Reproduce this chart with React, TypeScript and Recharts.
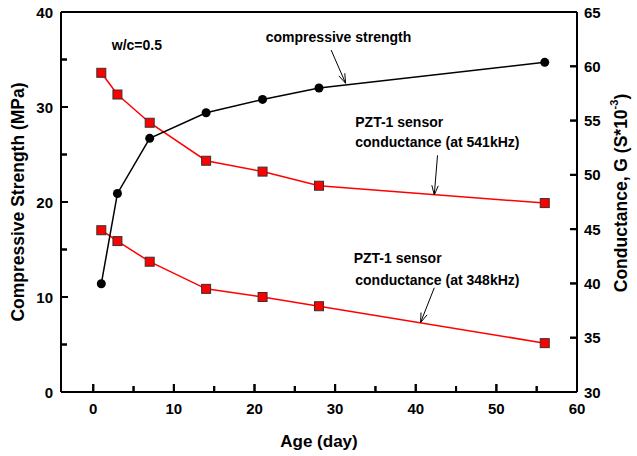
import React from "react";
import {
  LineChart,
  Line,
  XAxis,
  YAxis,
  ReferenceLine,
  ReferenceDot,
} from "recharts";

if (typeof document !== "undefined") {
  document.body.style.margin = "0";
}

const days = [1, 3, 7, 14, 21, 28, 56];
const strength = [11.4, 20.9, 26.7, 29.4, 30.8, 32.0, 34.7];
const g541 = [59.4, 57.4, 54.8, 51.3, 50.3, 49.0, 47.4];
const g348 = [44.9, 43.9, 42.0, 39.5, 38.75, 37.9, 34.5];

const xTicks = [0, 5, 10, 15, 20, 25, 30, 35, 40, 45, 50, 55, 60];
const leftTicks = [0, 5, 10, 15, 20, 25, 30, 35, 40];
const rightTicks = [30, 35, 40, 45, 50, 55, 60, 65];
const X_MIN = -4;
const X_MAX = 60;

const data = days.map((d, i) => ({
  day: d,
  strength: strength[i],
  g541: g541[i],
  g348: g348[i],
}));

const FONT = "'Liberation Sans', Arial, sans-serif";

const XTick = (props: any) => {
  const { x, y, payload } = props;
  const v = payload.value;
  const major = v % 10 === 0;
  return (
    <g>
      {v < X_MAX && (
        <path d={`M${x},${y}L${x},${y - (major ? 8 : 6)}`} stroke="#000" strokeWidth={2} fill="none" />
      )}
      {major && (
        <text x={x} y={y + 16} textAnchor="middle" dominantBaseline="central" fontFamily={FONT} fontWeight="bold" fontSize={15} fill="#000">
          {v}
        </text>
      )}
    </g>
  );
};

const LTick = (props: any) => {
  const { x, y, payload } = props;
  const v = payload.value;
  const major = v % 10 === 0;
  return (
    <g>
      {v > 0 && v < 40 && (
        <path d={`M${x},${y}L${x + (major ? 7 : 6)},${y}`} stroke="#000" strokeWidth={2} fill="none" />
      )}
      {major && (
        <text x={x - 8} y={y} textAnchor="end" dominantBaseline="central" fontFamily={FONT} fontWeight="bold" fontSize={15} fill="#000">
          {v}
        </text>
      )}
    </g>
  );
};

const RTick = (props: any) => {
  const { x, y, payload } = props;
  const v = payload.value;
  return (
    <g>
      {v > 30 && v < 65 && (
        <path d={`M${x},${y}L${x - 7},${y}`} stroke="#000" strokeWidth={2} fill="none" />
      )}
      <text x={x + 7} y={y} textAnchor="start" dominantBaseline="central" fontFamily={FONT} fontWeight="bold" fontSize={15} fill="#000">
        {v}
      </text>
    </g>
  );
};

// inward tick mark drawn with the scales: fixed pixel length from the segment start toward its end
const tickShape = (len: number) => (p: any) => {
  const { x1, y1, x2, y2 } = p;
  if (x1 == null) return <g />;
  const dx = x2 - x1;
  const dy = y2 - y1;
  const d = Math.sqrt(dx * dx + dy * dy) || 1;
  return (
    <g>
      <line x1={x1} y1={y1} x2={x1 + (dx / d) * len} y2={y1 + (dy / d) * len} stroke="#000" strokeWidth={2} />
    </g>
  );
};

const Square = (props: any) => {
  const { cx, cy, index } = props;
  if (cx == null || cy == null) return <g key={index} />;
  return (
    <rect key={index} x={cx - 4.5} y={cy - 4.5} width={9} height={9} fill="#ff0000" stroke="#333" strokeWidth={1} />
  );
};

const Arrow = (props: any) => {
  const { x1, y1, x2, y2 } = props;
  if (x1 == null) return <g />;
  const ang = Math.atan2(y2 - y1, x2 - x1);
  const L = 10;
  const a = 0.33;
  const ax1 = x2 - L * Math.cos(ang - a);
  const ay1 = y2 - L * Math.sin(ang - a);
  const ax2 = x2 - L * Math.cos(ang + a);
  const ay2 = y2 - L * Math.sin(ang + a);
  return (
    <g>
      <line x1={x1} y1={y1} x2={x2} y2={y2} stroke="#000" strokeWidth={1} />
      <polyline points={`${ax1},${ay1} ${x2},${y2} ${ax2},${ay2}`} fill="none" stroke="#000" strokeWidth={1} />
    </g>
  );
};

const annotations = [
  { text: "w/c=0.5", x: 2.3, y: 36.5 },
  { text: "compressive strength", x: 21.4, y: 37.4 },
  { text: "PZT-1 sensor", x: 32.5, y: 28.4 },
  { text: "conductance (at 541kHz)", x: 32.5, y: 26.3 },
  { text: "PZT-1 sensor", x: 32.3, y: 14.1 },
  { text: "conductance (at 348kHz)", x: 32.5, y: 11.8 },
];

const makeText = (text: string) => (p: any) => (
  <text x={p.cx} y={p.cy} textAnchor="start" dominantBaseline="central" fontFamily={FONT} fontWeight="bold" fontSize={14} fill="#000">
    {text}
  </text>
);

const LeftTitle = (p: any) => {
  const vb = p.viewBox || {};
  const cx = 18;
  const cy = (vb.y ?? 12) + (vb.height ?? 380) / 2;
  return (
    <text x={cx} y={cy} transform={`rotate(-90 ${cx} ${cy})`} textAnchor="middle" dominantBaseline="central" fontFamily={FONT} fontWeight="bold" fontSize={17.5} fill="#000">
      Compressive Strength (MPa)
    </text>
  );
};

const RightTitle = (p: any) => {
  const vb = p.viewBox || {};
  const cx = 621;
  const cy = (vb.y ?? 12) + (vb.height ?? 380) / 2 - 9;
  return (
    <text x={cx} y={cy} transform={`rotate(-90 ${cx} ${cy})`} textAnchor="middle" dominantBaseline="central" fontFamily={FONT} fontWeight="bold" fontSize={17.5} fill="#000">
      Conductance, G (S*10
      <tspan dy={-7} fontSize={11}>-3</tspan>
      <tspan dy={7}>)</tspan>
    </text>
  );
};

const XTitle = (p: any) => {
  const vb = p.viewBox || {};
  const cx = (vb.x ?? 61) + (vb.width ?? 516) / 2;
  return (
    <text x={cx} y={441} textAnchor="middle" dominantBaseline="central" fontFamily={FONT} fontWeight="bold" fontSize={17} fill="#000">
      Age (day)
    </text>
  );
};

export default function App() {
  return (
    <div style={{ width: 637, height: 456, background: "#fff" }}>
      <LineChart width={637} height={456} data={data} margin={{ top: 12, right: 0, left: 0, bottom: 0 }}>
        <XAxis
          dataKey="day"
          type="number"
          domain={[X_MIN, X_MAX]}
          ticks={xTicks}
          interval={0}
          tickSize={0}
          tickMargin={0}
          tickLine={false}
          tick={<XTick />}
          axisLine={{ stroke: "#000", strokeWidth: 2 }}
          height={64}
          label={<XTitle />}
        />
        <YAxis
          yAxisId="left"
          orientation="left"
          domain={[0, 40]}
          ticks={leftTicks}
          interval={0}
          tickSize={0}
          tickMargin={0}
          tickLine={false}
          tick={<LTick />}
          axisLine={{ stroke: "#000", strokeWidth: 2 }}
          width={61}
          label={<LeftTitle />}
        />
        <YAxis
          yAxisId="right"
          orientation="right"
          domain={[30, 65]}
          ticks={rightTicks}
          interval={0}
          tickSize={0}
          tickMargin={0}
          tickLine={false}
          tick={<RTick />}
          axisLine={{ stroke: "#000", strokeWidth: 2 }}
          width={60}
          label={<RightTitle />}
        />
        <ReferenceLine yAxisId="left" y={40} stroke="#000" strokeWidth={2} ifOverflow="visible" />
        {xTicks.filter((v) => v < X_MAX).map((v) => (
          <ReferenceLine
            key={"xt" + v}
            yAxisId="left"
            ifOverflow="visible"
            segment={[{ x: v, y: 0 }, { x: v, y: 5 }]}
            shape={tickShape(v % 10 === 0 ? 8 : 6)}
          />
        ))}
        {leftTicks.filter((v) => v > 0 && v < 40).map((v) => (
          <ReferenceLine
            key={"lt" + v}
            yAxisId="left"
            ifOverflow="visible"
            segment={[{ x: X_MIN, y: v }, { x: 0, y: v }]}
            shape={tickShape(v % 10 === 0 ? 7 : 6)}
          />
        ))}
        {rightTicks.filter((v) => v > 30 && v < 65).map((v) => (
          <ReferenceLine
            key={"rt" + v}
            yAxisId="right"
            ifOverflow="visible"
            segment={[{ x: X_MAX, y: v }, { x: 50, y: v }]}
            shape={tickShape(7)}
          />
        ))}
        <Line
          yAxisId="right"
          dataKey="g541"
          stroke="#ff0000"
          strokeWidth={1.5}
          dot={<Square />}
          isAnimationActive={false}
        />
        <Line
          yAxisId="right"
          dataKey="g348"
          stroke="#ff0000"
          strokeWidth={1.5}
          dot={<Square />}
          isAnimationActive={false}
        />
        <Line
          yAxisId="left"
          dataKey="strength"
          stroke="#000"
          strokeWidth={1.5}
          dot={{ r: 4.5, fill: "#000", stroke: "#000", strokeWidth: 0 }}
          isAnimationActive={false}
        />
        <ReferenceLine
          yAxisId="left"
          segment={[{ x: 29.5, y: 36.0 }, { x: 31.3, y: 32.5 }]}
          shape={Arrow}
        />
        <ReferenceLine
          yAxisId="right"
          segment={[{ x: 42.7, y: 51.8 }, { x: 42.3, y: 48.15 }]}
          shape={Arrow}
        />
        <ReferenceLine
          yAxisId="right"
          segment={[{ x: 42.3, y: 39.6 }, { x: 40.6, y: 36.4 }]}
          shape={Arrow}
        />
        {annotations.map((a, i) => (
          <ReferenceDot key={i} yAxisId="left" x={a.x} y={a.y} r={0} shape={makeText(a.text)} />
        ))}
      </LineChart>
    </div>
  );
}
